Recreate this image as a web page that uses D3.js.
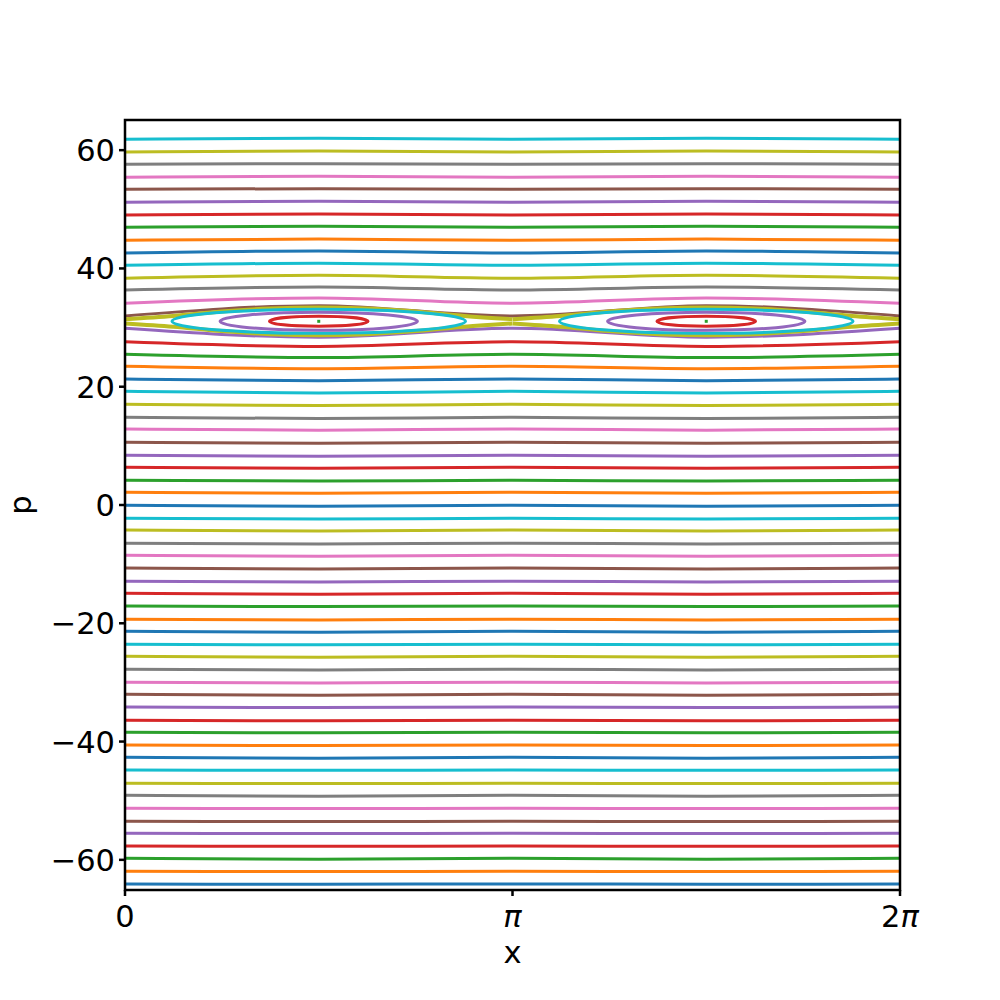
<!DOCTYPE html>
<meta charset="utf-8">
<style>
  body {
    margin: 0;
    background: #fff;
  }

  text {
    font-family: 'DejaVu Sans', sans-serif;
    fill: #000;
    font-size: 30.5px;
  }

  .orbit {
    fill: none;
    stroke-width: 3;
  }
</style>
<body>

<script src="https://d3js.org/d3.v7.min.js"></script>
<script>

// momentum of every orbit where it crosses x = 0, bottom to top
var pStart = [
  -64.08, -61.94, -59.74, -57.66, -55.51, -53.48, -51.29, -49.09, -47.06, -44.81,
  -42.66, -40.58, -38.43, -36.40, -34.16, -32.01, -29.98, -27.78, -25.58, -23.55,
  -21.36, -19.33, -17.08, -14.93, -12.90, -10.65, -8.51, -6.48, -4.23, -2.25,
  -0.05, 2.15, 4.18, 6.37, 8.40, 10.60, 12.85, 14.83, 17.03, 19.23,
  21.31, 23.45, 25.48, 27.61, 29.88, 31.96, 34.11, 36.35, 38.33, 40.53,
  42.61, 44.76, 46.96, 49.04, 51.18, 53.38, 55.41, 57.61, 59.69, 61.84
];

// momentum at x = pi/2 minus momentum at x = 0, same orbit
var pBump = [
  -0.05, -0.05, -0.17, -0.05, -0.05, -0.05, -0.05, -0.17, -0.05, -0.05,
  -0.17, -0.10, -0.10, -0.10, -0.10, -0.17, -0.10, -0.10, -0.17, -0.10,
  -0.17, -0.10, -0.10, -0.17, -0.10, -0.17, -0.17, -0.10, -0.17, -0.12,
  -0.17, -0.17, -0.12, -0.17, -0.15, -0.17, -0.20, -0.20, -0.22, -0.30,
  -0.30, -0.40, -0.56, -0.80, -1.50, 1.75, 0.90, 0.50, 0.50, 0.34,
  0.34, 0.20, 0.17, 0.17, 0.17, 0.10, 0.17, 0.10, 0.17, 0.17
];

// resonance islands (outer to inner), centred at x = pi/2 and 3pi/2
var islandCentreX = [Math.PI / 2, 3 * Math.PI / 2];
var islandCentreP = 31.06;
var islandHalfWidth = [1.19, 0.80, 0.40];
var islandHalfHeight = [2.03, 1.52, 0.84];

// chaotic layer on the separatrix: offset from an island centre, half height
var sepOffset = [0, 0.39, 0.79, 1.18, 1.57];
var sepHalf = [2.35, 2.17, 1.65, 0.90, 0.35];

var xTicks = [0, Math.PI, 2 * Math.PI];
var xTickLabels = [["0", ""], ["", "π"], ["2", "π"]];
var yTicks = [-60, -40, -20, 0, 20, 40, 60];

var margin = {top: 120, right: 100, bottom: 110, left: 125},
    width = 1000 - margin.left - margin.right,
    height = 1000 - margin.top - margin.bottom;

var colors = d3.schemeCategory10;

var x = d3.scaleLinear().domain([0, 2 * Math.PI]).range([0, width]);
var y = d3.scaleLinear().domain([-65.1, 65.1]).range([height, 0]);

var svg = d3.select("body").append("svg")
    .attr("width", 1000)
    .attr("height", 1000)
  .append("g")
    .attr("transform", "translate(" + margin.left + "," + margin.top + ")");

svg.append("clipPath")
    .attr("id", "clip")
  .append("rect")
    .attr("width", width)
    .attr("height", height);

var plot = svg.append("g").attr("clip-path", "url(#clip)");

var line = d3.line()
    .x(function(d) { return x(d[0]); })
    .y(function(d) { return y(d[1]); })
    .curve(d3.curveMonotoneX);

// the passing orbits
plot.selectAll(".passing")
    .data(pStart)
  .enter().append("path")
    .attr("class", "orbit passing")
    .attr("stroke", function(d, i) { return colors[i % 10]; })
    .attr("d", function(d, i) {
      var b = d + pBump[i];
      return line([[0, d], [Math.PI / 2, b], [Math.PI, d], [3 * Math.PI / 2, b], [2 * Math.PI, d]]);
    });

// separatrix layer, upper and lower lobe for each island
islandCentreX.forEach(function(c) {
  [1, -1].forEach(function(sign) {
    var pts = [];
    for (var k = sepOffset.length - 1; k > 0; k--) pts.push([c - sepOffset[k], islandCentreP + sign * sepHalf[k]]);
    for (var k = 0; k < sepOffset.length; k++) pts.push([c + sepOffset[k], islandCentreP + sign * sepHalf[k]]);
    plot.append("path")
        .attr("class", "orbit")
        .attr("stroke", colors[8])
        .style("stroke-width", 4)
        .attr("d", line(pts));
  });
});

// islands
var islandColors = [colors[9], colors[4], colors[3]];
islandCentreX.forEach(function(c) {
  islandHalfWidth.forEach(function(a, i) {
    plot.append("ellipse")
        .attr("class", "orbit")
        .attr("stroke", islandColors[i])
        .attr("cx", x(c))
        .attr("cy", y(islandCentreP))
        .attr("rx", x(a) - x(0))
        .attr("ry", y(islandCentreP - islandHalfHeight[i]) - y(islandCentreP));
  });
  plot.append("rect")
      .attr("x", x(c) - 1.5)
      .attr("y", y(islandCentreP) - 1.5)
      .attr("width", 3)
      .attr("height", 3)
      .attr("fill", colors[2]);
});

// frame
svg.append("rect")
    .attr("width", width)
    .attr("height", height)
    .attr("fill", "none")
    .attr("stroke", "#000")
    .attr("stroke-width", 2.5);

// x ticks
var xt = svg.selectAll(".xtick")
    .data(xTicks)
  .enter().append("g")
    .attr("transform", function(d) { return "translate(" + x(d) + "," + height + ")"; });
xt.append("line")
    .attr("y2", 6)
    .attr("stroke", "#000")
    .attr("stroke-width", 2.5);
var xl = xt.append("text")
    .attr("y", 37)
    .style("text-anchor", "middle");
xl.append("tspan").text(function(d, i) { return xTickLabels[i][0]; });
xl.append("tspan").style("font-style", "italic").text(function(d, i) { return xTickLabels[i][1]; });

// y ticks
var yt = svg.selectAll(".ytick")
    .data(yTicks)
  .enter().append("g")
    .attr("transform", function(d) { return "translate(0," + y(d) + ")"; });
yt.append("line")
    .attr("x2", -6)
    .attr("stroke", "#000")
    .attr("stroke-width", 2.5);
yt.append("text")
    .attr("x", -10)
    .attr("dy", "0.36em")
    .style("text-anchor", "end")
    .text(function(d) { return d < 0 ? "\u2212" + (-d) : d; });

// axis labels
svg.append("text")
    .attr("x", width / 2)
    .attr("y", 843)
    .style("text-anchor", "middle")
    .text("x");

svg.append("text")
    .attr("transform", "translate(" + (-94) + "," + (height / 2) + ") rotate(-90)")
    .style("text-anchor", "middle")
    .text("p");

</script>
</body>
